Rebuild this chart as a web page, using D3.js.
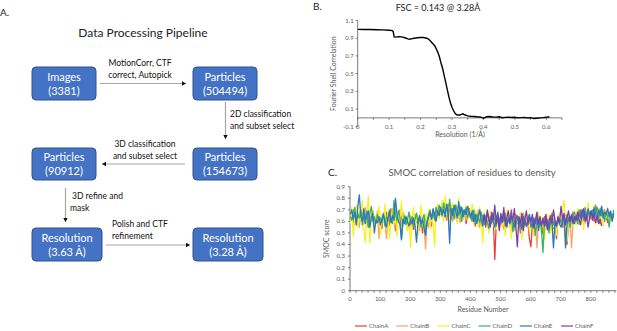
<!DOCTYPE html>
<html><head><meta charset="utf-8">
<script src="https://cdn.jsdelivr.net/npm/d3@7"></script>
<style>body{margin:0;background:#fff;} svg{display:block;font-family:Lato,"Open Sans",sans-serif;}</style>
</head><body><svg id="c" width="617" height="331"></svg>
<script>
// ---------- DATA ----------
const boxLabels = [["Images","(3381)"],["Particles","(504494)"],["Particles","(154673)"],["Particles","(90912)"],["Resolution","(3.63 Å)"],["Resolution","(3.28 Å)"]];
const stepLabels = [["MotionCorr, CTF","correct, Autopick"],["2D classification","and subset select"],["3D classification","and subset select"],["3D refine and","mask"],["Polish and CTF","refinement"]];

const fscRes = [0,0.02,0.04,0.06,0.08,0.10,0.11,0.113,0.116,0.12,0.13,0.14,0.15,0.16,0.165,0.17,0.18,0.19,0.20,0.21,0.22,0.225,0.23,0.235,0.24,0.245,0.25,0.255,0.26,0.265,0.27,0.275,0.28,0.285,0.29,0.295,0.30,0.305,0.31,0.315,0.32,0.325,0.33,0.335,0.34,0.35,0.36,0.37,0.38,0.39,0.40,0.41,0.42,0.43,0.44,0.45,0.46,0.47,0.48,0.49,0.50,0.51,0.52,0.53,0.54,0.55,0.56,0.57,0.58,0.59,0.60,0.61];
const fscCorr = [1.0,0.999,0.998,0.996,0.994,0.99,0.985,0.975,0.915,0.912,0.918,0.915,0.905,0.893,0.888,0.892,0.900,0.905,0.908,0.908,0.900,0.89,0.875,0.855,0.835,0.815,0.78,0.74,0.69,0.62,0.56,0.48,0.40,0.32,0.24,0.17,0.12,0.08,0.05,0.035,0.033,0.032,0.04,0.045,0.035,0.022,0.018,0.015,0.012,0.01,-0.005,0.012,0.015,0.010,0.008,0.012,0.002,0.005,0.008,0.004,0.006,0.0,0.002,0.004,0.0,0.003,-0.008,-0.004,0.0,0.002,0.006,0.012];
const fscYTicks = [-0.1,0.1,0.3,0.5,0.7,0.9,1.1];
const fscXTicks = [0,0.1,0.2,0.3,0.4,0.5,0.6];

const residues = d3.range(1, 881, 5);
const chainA = [0.62,0.66,0.59,0.70,0.64,0.57,0.68,0.61,0.73,0.58,0.63,0.67,0.55,0.64,0.60,0.69,0.56,0.62,0.66,0.59,
0.61,0.54,0.65,0.58,0.68,0.63,0.57,0.71,0.60,0.66,0.52,0.63,0.59,0.70,0.62,0.56,0.65,0.60,0.58,0.63,
0.57,0.62,0.53,0.66,0.59,0.61,0.55,0.64,0.50,0.60,0.63,0.58,0.67,0.61,0.56,0.69,0.63,0.72,0.65,0.70,
0.66,0.73,0.64,0.70,0.61,0.75,0.67,0.62,0.71,0.66,0.74,0.60,0.69,0.65,0.72,0.63,0.68,0.58,0.66,0.71,
0.64,0.60,0.69,0.56,0.66,0.62,0.70,0.58,0.65,0.61,0.55,0.67,0.60,0.64,0.58,0.63,0.27,0.59,0.66,0.54,
0.62,0.57,0.68,0.60,0.55,0.64,0.59,0.70,0.53,0.61,0.66,0.58,0.63,0.50,0.60,0.67,0.56,0.62,0.59,0.45,
0.38,0.58,0.63,0.52,0.60,0.66,0.55,0.61,0.49,0.64,0.58,0.53,0.62,0.57,0.67,0.54,0.60,0.45,0.63,0.58,
0.61,0.55,0.66,0.52,0.40,0.59,0.64,0.57,0.62,0.68,0.60,0.65,0.58,0.70,0.63,0.59,0.66,0.61,0.68,0.64,
0.62,0.69,0.60,0.66,0.72,0.63,0.58,0.67,0.61,0.70,0.64,0.59,0.68,0.62,0.66,0.63];
const chainB = [0.60,0.64,0.70,0.57,0.66,0.62,0.55,0.68,0.63,0.59,0.72,0.61,0.65,0.54,0.67,0.60,0.63,0.58,0.69,0.45,
0.62,0.57,0.66,0.60,0.45,0.64,0.69,0.58,0.63,0.73,0.60,0.55,0.66,0.62,0.57,0.68,0.61,0.64,0.52,0.60,
0.65,0.58,0.62,0.55,0.67,0.60,0.52,0.64,0.59,0.57,0.36,0.61,0.55,0.66,0.60,0.70,0.64,0.61,0.68,0.73,
0.69,0.64,0.72,0.67,0.62,0.70,0.65,0.74,0.60,0.68,0.63,0.71,0.66,0.59,0.70,0.64,0.68,0.61,0.73,0.66,
0.62,0.68,0.58,0.65,0.61,0.70,0.55,0.63,0.60,0.67,0.58,0.64,0.52,0.61,0.66,0.57,0.62,0.59,0.65,0.56,
0.60,0.66,0.53,0.62,0.58,0.69,0.55,0.63,0.60,0.52,0.65,0.59,0.64,0.56,0.61,0.67,0.58,0.63,0.55,0.60,
0.57,0.63,0.48,0.60,0.37,0.59,0.64,0.55,0.61,0.57,0.66,0.52,0.60,0.63,0.56,0.62,0.58,0.53,0.65,0.60,
0.58,0.63,0.55,0.66,0.60,0.52,0.64,0.37,0.59,0.65,0.61,0.68,0.57,0.63,0.70,0.62,0.58,0.66,0.71,0.63,
0.67,0.61,0.70,0.64,0.59,0.68,0.62,0.73,0.60,0.66,0.63,0.69,0.58,0.65,0.61,0.67];
const chainC = [0.58,0.72,0.47,0.66,0.74,0.55,0.69,0.61,0.78,0.52,0.42,0.67,0.82,0.41,0.63,0.70,0.50,0.65,0.58,0.73,
0.49,0.66,0.60,0.75,0.53,0.68,0.45,0.62,0.71,0.57,0.64,0.47,0.70,0.59,0.78,0.55,0.66,0.61,0.52,0.68,
0.37,0.63,0.72,0.55,0.67,0.48,0.61,0.74,0.58,0.52,0.66,0.60,0.70,0.54,0.64,0.58,0.39,0.68,0.75,0.62,
0.70,0.78,0.60,0.82,0.66,0.73,0.57,0.69,0.76,0.63,0.71,0.58,0.80,0.65,0.72,0.61,0.68,0.74,0.62,0.70,
0.66,0.75,0.58,0.70,0.63,0.55,0.72,0.60,0.42,0.68,0.57,0.64,0.50,0.69,0.61,0.56,0.66,0.53,0.62,0.59,
0.67,0.55,0.63,0.48,0.70,0.58,0.61,0.45,0.66,0.59,0.53,0.64,0.57,0.68,0.44,0.62,0.55,0.60,0.66,0.51,
0.59,0.65,0.47,0.61,0.56,0.68,0.52,0.63,0.57,0.44,0.62,0.58,0.66,0.50,0.61,0.55,0.64,0.48,0.60,0.67,
0.63,0.72,0.78,0.58,0.43,0.65,0.60,0.55,0.69,0.62,0.57,0.71,0.64,0.59,0.67,0.53,0.70,0.63,0.76,0.61,
0.68,0.62,0.74,0.57,0.66,0.71,0.60,0.65,0.56,0.69,0.63,0.72,0.58,0.66,0.61,0.64];
const chainD = [0.64,0.61,0.68,0.72,0.59,0.66,0.63,0.70,0.57,0.65,0.62,0.69,0.55,0.67,0.73,0.60,0.64,0.58,0.66,0.61,
0.63,0.59,0.67,0.56,0.64,0.60,0.70,0.62,0.58,0.78,0.66,0.61,0.69,0.63,0.45,0.60,0.65,0.57,0.62,0.68,
0.59,0.64,0.56,0.62,0.67,0.58,0.63,0.55,0.61,0.66,0.52,0.60,0.65,0.70,0.63,0.68,0.61,0.72,0.66,0.74,
0.70,0.65,0.76,0.68,0.72,0.64,0.79,0.67,0.71,0.62,0.74,0.69,0.65,0.73,0.60,0.70,0.66,0.72,0.63,0.69,
0.65,0.61,0.70,0.58,0.66,0.63,0.59,0.68,0.62,0.57,0.65,0.60,0.54,0.64,0.59,0.67,0.61,0.56,0.63,0.60,
0.58,0.64,0.60,0.67,0.55,0.62,0.59,0.65,0.51,0.61,0.57,0.63,0.60,0.54,0.66,0.58,0.62,0.56,0.60,0.64,
0.55,0.61,0.58,0.48,0.62,0.57,0.63,0.53,0.33,0.59,0.56,0.62,0.50,0.60,0.65,0.57,0.61,0.55,0.63,0.58,
0.62,0.57,0.64,0.59,0.66,0.61,0.55,0.63,0.68,0.60,0.65,0.58,0.70,0.63,0.67,0.61,0.72,0.65,0.69,0.62,
0.66,0.70,0.63,0.74,0.67,0.62,0.71,0.65,0.69,0.60,0.68,0.64,0.55,0.67,0.62,0.70];
const chainE = [0.66,0.70,0.62,0.68,0.57,0.73,0.83,0.64,0.60,0.71,0.58,0.66,0.69,0.55,0.63,0.67,0.50,0.61,0.59,0.64,
0.57,0.62,0.66,0.60,0.55,0.63,0.68,0.59,0.65,0.61,0.80,0.66,0.60,0.57,0.44,0.62,0.58,0.64,0.60,0.56,
0.61,0.58,0.63,0.56,0.42,0.60,0.65,0.58,0.62,0.54,0.48,0.59,0.64,0.68,0.62,0.71,0.66,0.60,0.69,0.65,
0.72,0.66,0.70,0.64,0.75,0.68,0.41,0.71,0.65,0.74,0.69,0.63,0.77,0.67,0.72,0.64,0.70,0.66,0.73,0.68,
0.63,0.69,0.60,0.66,0.58,0.64,0.70,0.61,0.56,0.65,0.59,0.67,0.62,0.57,0.64,0.60,0.55,0.63,0.68,0.59,
0.64,0.59,0.66,0.61,0.56,0.63,0.58,0.68,0.60,0.55,0.62,0.65,0.57,0.61,0.53,0.64,0.59,0.56,0.62,0.66,
0.60,0.55,0.62,0.58,0.64,0.52,0.60,0.57,0.63,0.56,0.61,0.58,0.54,0.62,0.59,0.37,0.60,0.56,0.63,0.58,
0.55,0.60,0.64,0.37,0.58,0.63,0.60,0.66,0.62,0.58,0.65,0.61,0.67,0.63,0.70,0.64,0.68,0.62,0.71,0.66,
0.69,0.64,0.72,0.67,0.62,0.70,0.65,0.73,0.63,0.68,0.66,0.71,0.64,0.69,0.60,0.67];
const chainFStart = 441;
const chainF = [0.60,0.66,0.57,0.70,0.63,0.55,0.68,0.61,0.74,0.58,0.64,0.52,0.67,0.60,0.72,0.56,0.63,0.69,0.59,0.65,
0.61,0.71,0.55,0.38,0.64,0.58,0.67,0.52,0.62,0.69,0.57,0.63,0.60,0.66,0.54,0.61,0.68,0.58,0.64,0.56,
0.62,0.57,0.66,0.53,0.60,0.65,0.58,0.70,0.61,0.56,0.64,0.59,0.73,0.62,0.67,0.57,0.63,0.69,0.60,0.65,
0.58,0.64,0.61,0.68,0.62,0.57,0.66,0.71,0.60,0.65,0.55,0.63,0.69,0.61,0.67,0.59,0.64,0.58,0.62,0.56];
const chainNames = ["ChainA","ChainB","ChainC","ChainD","ChainE","ChainF"];
const chainColors = ["#e5413b","#f6a46c","#f5f21c","#33b36c","#2a78c2","#7a3eb1"];
const smocYTicks = [0,0.1,0.2,0.3,0.4,0.5,0.6,0.7,0.8,0.9];
const smocXTicks = [0,100,200,300,400,500,600,700,800];

// ---------- DRAW ----------
const svg = d3.select("#c");
svg.append("rect").attr("width",617).attr("height",331).attr("fill","#fff");

// Panel A
svg.append("text").attr("x",0).attr("y",16).attr("font-size",10).attr("fill","#222").text("A.");
svg.append("text").attr("x",143).attr("y",37).attr("text-anchor","middle").attr("font-size",12).attr("fill","#222").text("Data Processing Pipeline");

const boxGeom = [{x:32,y:67,w:64,h:33},{x:193,y:67,w:64,h:33},{x:193,y:148,w:64,h:32},{x:32,y:148,w:64,h:32},{x:32,y:228,w:70,h:33},{x:193,y:228,w:70,h:33}];
const gb = svg.append("g");
boxLabels.forEach((lab,i)=>{
  const b = boxGeom[i];
  gb.append("rect").attr("x",b.x).attr("y",b.y).attr("width",b.w).attr("height",b.h).attr("rx",4)
    .attr("fill","#4472c4").attr("stroke","#2f528f").attr("stroke-width",1);
  gb.append("text").attr("x",b.x+b.w/2).attr("y",b.y+b.h/2-3).attr("text-anchor","middle").attr("font-size",11).attr("fill","#fff").text(lab[0]);
  gb.append("text").attr("x",b.x+b.w/2).attr("y",b.y+b.h/2+11).attr("text-anchor","middle").attr("font-size",11).attr("fill","#fff").text(lab[1]);
});
function arrow(x1,y1,x2,y2){
  svg.append("line").attr("x1",x1).attr("y1",y1).attr("x2",x2).attr("y2",y2).attr("stroke","#a6a6a6").attr("stroke-width",1.2);
  const a = Math.atan2(y2-y1,x2-x1), L=4, W=2.2;
  const p = [[x2,y2],[x2-L*Math.cos(a)+W*Math.sin(a), y2-L*Math.sin(a)-W*Math.cos(a)],[x2-L*Math.cos(a)-W*Math.sin(a), y2-L*Math.sin(a)+W*Math.cos(a)]];
  svg.append("path").attr("d","M"+p.map(q=>q.join(",")).join("L")+"Z").attr("fill","#111");
}
arrow(100,83.5,186,83.5);
arrow(225.5,102,225.5,139);
arrow(185,164,102,164);
arrow(65.5,188,65.5,222);
arrow(106,245,190,245);
const stepGeom = [{x:140,y:66,a:"middle"},{x:230,y:117,a:"start"},{x:145,y:147,a:"middle"},{x:72,y:199,a:"start"},{x:112,y:227,a:"start"}];
stepLabels.forEach((lab,i)=>{
  const s = stepGeom[i];
  lab.forEach((t,j)=>{
    svg.append("text").attr("x",s.x - (i===3&&j===1?2:0)).attr("y",s.y+j*12).attr("text-anchor",s.a).attr("font-size",8.5).attr("fill","#111").text(t);
  });
});

// Panel B: FSC
svg.append("text").attr("x",313).attr("y",10).attr("font-size",10).attr("fill","#222").text("B.");
svg.append("text").attr("x",438).attr("y",11).attr("text-anchor","middle").attr("font-size",9).attr("fill","#222").text("FSC = 0.143 @ 3.28Å");
const fx = d3.scaleLinear().domain([0,0.65]).range([357.7,562]);
const fy = d3.scaleLinear().domain([-0.1,1.1]).range([126.7,20.5]);
const gB = svg.append("g").attr("font-size",6).attr("fill","#595959");
gB.append("line").attr("x1",fx(0)).attr("x2",fx(0)).attr("y1",fy(1.1)).attr("y2",fy(-0.1)).attr("stroke","#595959").attr("stroke-width",0.8);
fscYTicks.forEach(t=>{
  gB.append("line").attr("x1",fx(0)-2).attr("x2",fx(0)).attr("y1",fy(t)).attr("y2",fy(t)).attr("stroke","#595959").attr("stroke-width",0.8);
  gB.append("text").attr("x",fx(0)-4).attr("y",fy(t)+2).attr("text-anchor","end").text(d3.format(".1f")(t).replace("−","-"));
});
gB.append("line").attr("x1",fx(0)).attr("x2",fx(0.65)).attr("y1",fy(0)).attr("y2",fy(0)).attr("stroke","#595959").attr("stroke-width",0.8);
d3.range(0,14).forEach(k=>{ const t=k*0.05;
  gB.append("line").attr("x1",fx(t)).attr("x2",fx(t)).attr("y1",fy(0)).attr("y2",fy(0)+2).attr("stroke","#595959").attr("stroke-width",0.8);
});
fscXTicks.forEach(t=>{
  gB.append("text").attr("x",fx(t)).attr("y",fy(-0.1)+2).attr("text-anchor","middle").text(t===0?"0":d3.format(".1f")(t));
});
gB.append("text").attr("transform",`translate(336,${(fy(1.1)+fy(-0.1))/2}) rotate(-90)`).attr("text-anchor","middle").attr("font-size",7).text("Fourier Shell Correlation");
gB.append("text").attr("x",460).attr("y",137).attr("text-anchor","middle").attr("font-size",7).text("Resolution (1/Å)");
svg.append("path").datum(fscRes.map((r,i)=>[r,fscCorr[i]]))
  .attr("d",d3.line().x(d=>fx(d[0])).y(d=>fy(d[1])))
  .attr("fill","none").attr("stroke","#000").attr("stroke-width",1.4);

// Panel C: SMOC
svg.append("text").attr("x",328).attr("y",176).attr("font-size",10).attr("fill","#222").text("C.");
svg.append("text").attr("x",472).attr("y",176).attr("text-anchor","middle").attr("font-size",9.5).attr("fill","#595959").text("SMOC correlation of residues to density");
const sx = d3.scaleLinear().domain([0,885]).range([350,616.4]);
const sy = d3.scaleLinear().domain([0,0.9]).range([290.7,186.7]);
const gC = svg.append("g").attr("font-size",6).attr("fill","#595959");
gC.append("line").attr("x1",sx(0)).attr("x2",sx(0)).attr("y1",sy(0.9)).attr("y2",sy(0)).attr("stroke","#595959").attr("stroke-width",0.8);
smocYTicks.forEach(t=>{
  gC.append("line").attr("x1",sx(0)-2).attr("x2",sx(0)).attr("y1",sy(t)).attr("y2",sy(t)).attr("stroke","#595959").attr("stroke-width",0.8);
  gC.append("text").attr("x",sx(0)-5).attr("y",sy(t)+2).attr("text-anchor","end").text(t===0?"0":d3.format(".1f")(t));
});
gC.append("line").attr("x1",sx(0)).attr("x2",sx(885)).attr("y1",sy(0)).attr("y2",sy(0)).attr("stroke","#595959").attr("stroke-width",0.8);
d3.range(0,885,20).forEach(t=>{
  gC.append("line").attr("x1",sx(t)).attr("x2",sx(t)).attr("y1",sy(0)).attr("y2",sy(0)+2).attr("stroke","#595959").attr("stroke-width",0.8);
});
smocXTicks.forEach(t=>{
  gC.append("text").attr("x",sx(t)).attr("y",sy(0)+10).attr("text-anchor","middle").text(t);
});
gC.append("text").attr("transform",`translate(329,${(sy(0.9)+sy(0))/2}) rotate(-90)`).attr("text-anchor","middle").attr("font-size",7).text("SMOC score");
gC.append("text").attr("x",483).attr("y",312).attr("text-anchor","middle").attr("font-size",7).text("Residue Number");
const chains = [chainA,chainB,chainC,chainD,chainE];
const lineGen = d3.line().x(d=>sx(d[0])).y(d=>sy(d[1]));
chains.forEach((c,i)=>{
  svg.append("path").datum(c.map((v,j)=>[residues[j],v])).attr("d",lineGen)
    .attr("fill","none").attr("stroke",chainColors[i]).attr("stroke-width",1.3).attr("stroke-linejoin","round");
});
svg.append("path").datum(chainF.map((v,j)=>[chainFStart+5*j,v])).attr("d",lineGen)
  .attr("fill","none").attr("stroke",chainColors[5]).attr("stroke-width",1.3).attr("stroke-linejoin","round");

// legend
const lg = svg.append("g").attr("font-size",6).attr("fill","#595959");
chainNames.forEach((n,i)=>{
  const x0 = 355 + i*41.2;
  lg.append("line").attr("x1",x0).attr("x2",x0+12).attr("y1",326).attr("y2",326).attr("stroke",chainColors[i]).attr("stroke-width",1.2);
  lg.append("text").attr("x",x0+14).attr("y",328).text(n);
});
</script></body></html>
